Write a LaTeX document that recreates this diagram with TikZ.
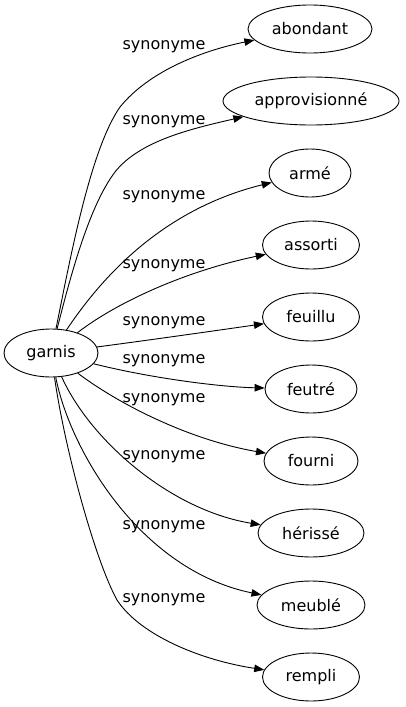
\documentclass[tikz,border=0pt]{standalone}
\usepackage{fontspec}
\setmainfont{DejaVu Sans}
\usetikzlibrary{shapes.geometric,arrows.meta}
\begin{document}
\begin{tikzpicture}[x=1pt,y=-1pt,
  every node/.style={font=\fontsize{16}{18}\selectfont},
  term/.style={draw,ellipse,inner sep=0pt,minimum height=48pt,line width=0.9pt},
  lbl/.style={inner sep=0pt},
  edge/.style={line width=0.9pt,-{Triangle[length=10pt,width=7.5pt]}}]
\useasboundingbox (0,0) rectangle (405,707);
\node[term,minimum width=94pt] (g) at (51,353) {garnis};
\node[term,minimum width=124pt] (t1) at (310,29) {abondant};
\node[term,minimum width=176pt] (t2) at (311,101) {approvisionné};
\node[term,minimum width=82pt] (t3) at (310,173) {armé};
\node[term,minimum width=97pt] (t4) at (311,245) {assorti};
\node[term,minimum width=97pt] (t5) at (311,317) {feuillu};
\node[term,minimum width=92pt] (t6) at (311,389) {feutré};
\node[term,minimum width=94pt] (t7) at (311,461) {fourni};
\node[term,minimum width=106pt] (t8) at (311,533) {hérissé};
\node[term,minimum width=108pt] (t9) at (311,605) {meublé};
\node[term,minimum width=97pt] (t10) at (311,677) {rempli};
\node[lbl] (l1) at (164,46.5) {synonyme};
\node[lbl] (l2) at (164,122) {synonyme};
\node[lbl] (l3) at (164,197) {synonyme};
\node[lbl] (l4) at (164,265.5) {synonyme};
\node[lbl] (l5) at (164,322.5) {synonyme};
\node[lbl] (l6) at (164,361) {synonyme};
\node[lbl] (l7) at (164,400) {synonyme};
\node[lbl] (l8) at (164,457) {synonyme};
\node[lbl] (l9) at (164,526.5) {synonyme};
\node[lbl] (l10) at (164,600) {synonyme};
\draw[edge] (g) .. controls (70,260) and (90,150) .. (120,107) .. controls (150,70) and (205,50) .. (t1);
\draw[edge] (g) .. controls (72,270) and (90,205) .. (115,172) .. controls (140,140) and (195,128) .. (t2);
\draw[edge] (g) .. controls (100,280) and (160,210) .. (t3);
\draw[edge] (g) .. controls (120,300) and (190,270) .. (t4);
\draw[edge] (g) .. controls (150,340) and (220,330) .. (t5);
\draw[edge] (g) .. controls (150,378) and (220,387) .. (t6);
\draw[edge] (g) .. controls (120,405) and (190,440) .. (t7);
\draw[edge] (g) .. controls (90,440) and (170,510) .. (t8);
\draw[edge] (g) .. controls (70,450) and (140,570) .. (t9);
\draw[edge] (g) .. controls (65,450) and (95,560) .. (117,600) .. controls (140,635) and (200,660) .. (t10);
\end{tikzpicture}
\end{document}
